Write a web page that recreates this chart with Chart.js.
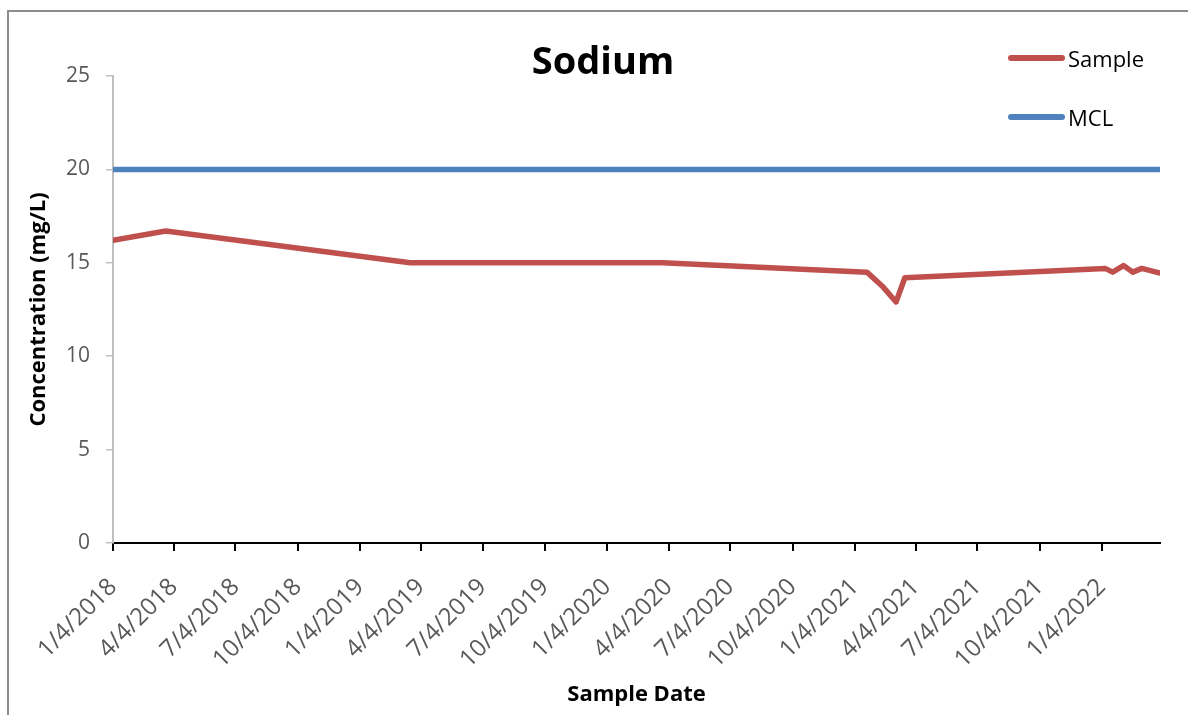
<!DOCTYPE html>
<html>
<head>
<meta charset="utf-8">
<title>Sodium</title>
<script src="https://cdn.jsdelivr.net/npm/chart.js@4.4.1/dist/chart.umd.min.js"></script>
<style>
    body { margin: 0; background: #fff; overflow: hidden; font-family: 'Open Sans', sans-serif; }
    #frame { position: absolute; left: 7px; top: 10px; width: 1220px; height: 740px; border: 2px solid #8c8c8c; }
    #chart { position: absolute; left: 0; top: 0; }
    #legend { position: absolute; left: 999px; top: 16px; list-style: none; margin: 0; padding: 0; }
    #legend li { height: 59px; display: flex; align-items: center; font-size: 22px; color: #000; }
    #legend span.swatch { display: inline-block; width: 57px; height: 6px; border-radius: 3px; margin-right: 3px; }
</style>
</head>
<body>
<div id="frame">
    <canvas id="chart" width="1188" height="703"></canvas>
    <ul id="legend"></ul>
</div>
<script>
// Sodium - sample dates and values
const sampleDates = ['1/4/2018', '3/23/2018', '3/19/2019', '3/26/2020', '1/22/2021', '2/15/2021', '3/6/2021',
                     '3/19/2021', '1/9/2022', '1/20/2022', '2/5/2022', '2/19/2022', '3/4/2022', '3/31/2022'];
const sampleValues = [16.2, 16.7, 15.0, 15.0, 14.5, 13.7, 12.9, 14.2, 14.7, 14.5, 14.85, 14.5, 14.7, 14.45];

// MCL limit line
const mclDates = ['1/4/2018', '3/31/2022'];
const mclValues = [20, 20];

// axis ticks
const xTickLabels = ['1/4/2018', '4/4/2018', '7/4/2018', '10/4/2018', '1/4/2019', '4/4/2019', '7/4/2019', '10/4/2019',
                     '1/4/2020', '4/4/2020', '7/4/2020', '10/4/2020', '1/4/2021', '4/4/2021', '7/4/2021', '10/4/2021', '1/4/2022'];
const yTicks = [0, 5, 10, 15, 20, 25];

// m/d/yyyy -> day number
function to_day(s)
{
    let p = s.split('/');
    return Date.UTC(+p[2], +p[0] - 1, +p[1]) / 86400000;
}

function to_points(dates, values)
{
    return dates.map(function (d, i) { return {x: to_day(d), y: values[i]}; });
}

const xTickDays = xTickLabels.map(to_day);

// legend built from the datasets
const htmlLegend = {
    id: 'htmlLegend',
    afterUpdate(chart) {
        let ul = document.getElementById('legend');
        ul.innerHTML = '';
        chart.data.datasets.forEach(function (ds) {
            let li = document.createElement('li');
            let sw = document.createElement('span');
            sw.className = 'swatch';
            sw.style.background = ds.borderColor;
            li.appendChild(sw);
            li.appendChild(document.createTextNode(ds.label));
            ul.appendChild(li);
        });
    }
};

Chart.defaults.font.family = "'Open Sans', sans-serif";

var ctx = document.getElementById('chart');
var myChart = new Chart(ctx, {
    type: 'line',
    data: {
        datasets: [{
            label: 'Sample',
            data: to_points(sampleDates, sampleValues),
            borderColor: '#C0504D',
            borderWidth: 5.5,
            borderJoinStyle: 'round',
            borderCapStyle: 'round',
            pointRadius: 0,
            tension: 0
        }, {
            label: 'MCL',
            data: to_points(mclDates, mclValues),
            borderColor: '#4F81BD',
            borderWidth: 5.5,
            borderCapStyle: 'round',
            pointRadius: 0,
            tension: 0
        }]
    },
    options: {
        responsive: false,
        animation: false,
        // equal side padding keeps the title centred on the canvas
        layout: { padding: { left: 37, right: 37, top: 0, bottom: 0 } },
        plugins: {
            legend: { display: false },
            tooltip: { enabled: false },
            title: {
                display: true,
                text: 'Sodium',
                color: '#000',
                font: { size: 38, weight: 'bold', lineHeight: 1 },
                padding: { top: 32, bottom: -6 }
            }
        },
        scales: {
            x: {
                type: 'linear',
                min: to_day(sampleDates[0]),
                max: to_day(sampleDates[sampleDates.length - 1]),
                afterBuildTicks: function (scale) {
                    scale.ticks = xTickDays.map(function (v) { return {value: v}; });
                },
                afterFit: function (scale) { scale.height = 172; },
                ticks: {
                    autoSkip: false,
                    minRotation: 45,
                    maxRotation: 45,
                    color: '#595959',
                    font: { size: 24 },
                    padding: 22,
                    callback: function (value, index) { return xTickLabels[index]; }
                },
                grid: { drawOnChartArea: false, drawTicks: true, tickLength: 8, color: '#000', lineWidth: 2 },
                border: { display: true, color: '#000', width: 2 },
                title: {
                    display: true,
                    text: 'Sample Date',
                    color: '#000',
                    font: { size: 22, weight: 'bold' },
                    padding: { top: 0, bottom: 7 }
                }
            },
            y: {
                min: 0,
                max: 25,
                afterBuildTicks: function (scale) {
                    scale.ticks = yTicks.map(function (v) { return {value: v}; });
                },
                afterFit: function (scale) { scale.width = 67; },
                ticks: { color: '#595959', font: { size: 21 }, padding: 16 },
                grid: { drawOnChartArea: false, drawTicks: true, tickLength: 7, color: '#bfbfbf', lineWidth: 1.5 },
                border: { display: true, color: '#bfbfbf', width: 2 },
                title: {
                    display: true,
                    text: 'Concentration (mg/L)',
                    color: '#000',
                    font: { size: 22, weight: 'bold' },
                    padding: { top: -20, bottom: 0 }
                }
            }
        }
    },
    plugins: [htmlLegend]
});
</script>
</body>
</html>
